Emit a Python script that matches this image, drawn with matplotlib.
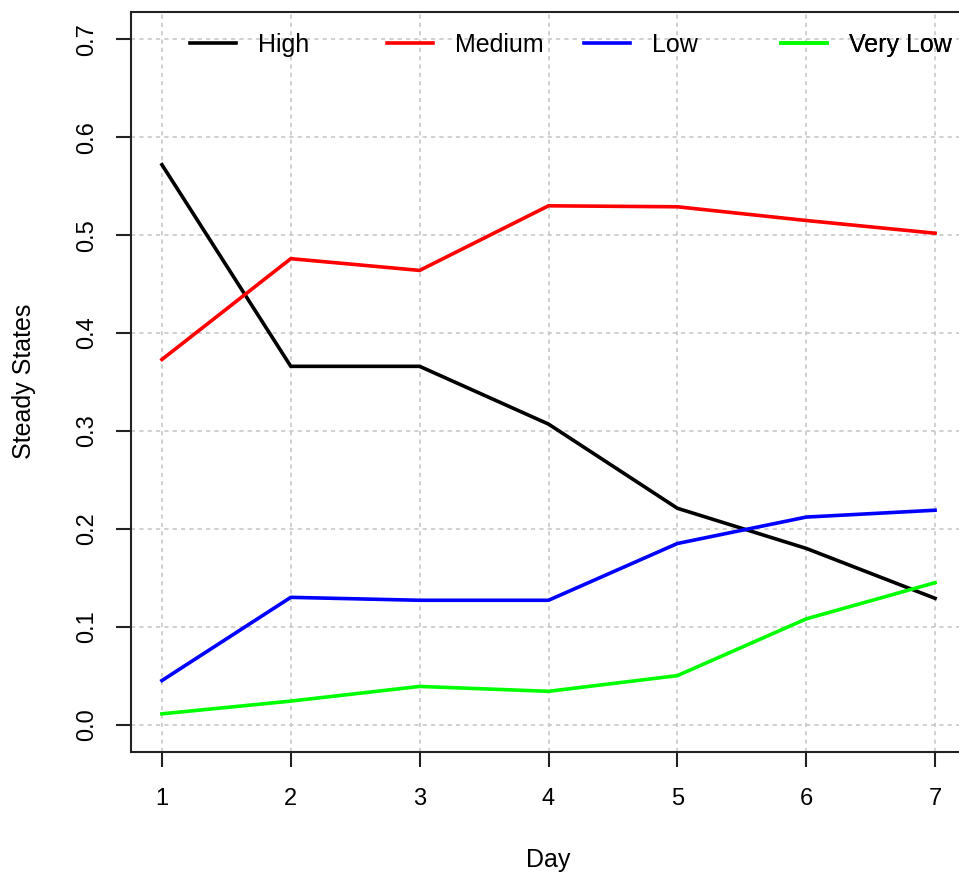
import matplotlib
matplotlib.use('Agg')
import matplotlib.pyplot as plt

plt.rcParams['font.family'] = ['Liberation Sans', 'DejaVu Sans']

# 数据
days = [1, 2, 3, 4, 5, 6, 7]
high = [0.572, 0.366, 0.366, 0.307, 0.221, 0.180, 0.129]
medium = [0.373, 0.476, 0.464, 0.530, 0.529, 0.515, 0.502]
low = [0.045, 0.130, 0.127, 0.127, 0.185, 0.212, 0.219]
very_low = [0.011, 0.024, 0.039, 0.034, 0.050, 0.108, 0.145]

series = [('High', high, 'black'), ('Medium', medium, 'red'),
          ('Low', low, 'blue'), ('Very Low', very_low, '#00ff00')]
y_ticks = [0.0, 0.1, 0.2, 0.3, 0.4, 0.5, 0.6, 0.7]

fig = plt.figure(figsize=(9.59, 8.82), dpi=100)
ax = fig.add_axes([131 / 959, 130 / 882, 835 / 959, 740 / 882])

# 网格线
for d in days:
    ax.axvline(d, color='#c8c8c8', lw=1.2, ls=(0, (2.5, 2.5)), zorder=0)
for t in y_ticks:
    ax.axhline(t, color='#c8c8c8', lw=1.2, ls=(0, (2.5, 2.5)), zorder=0)

lines = []
for name, vals, col in series:
    ln, = ax.plot(days, vals, color=col, lw=2.6, label=name)
    lines.append(ln)

ax.set_xlim(0.76, 7.24)
ax.set_ylim(-0.028, 0.728)
ax.set_xticks(days)
ax.set_yticks(y_ticks)
ax.set_yticklabels([f'{t:.1f}' for t in y_ticks], rotation=90, va='center')

for s in ax.spines.values():
    s.set_linewidth(1.5)
    s.set_color('#222222')
ax.tick_params(axis='both', direction='out', length=11, width=1.5,
               color='#222222', labelsize=17)
ax.tick_params(axis='x', pad=15)
ax.tick_params(axis='y', pad=13)

ax.set_xlabel('Day', fontsize=18)
ax.xaxis.set_label_coords(0.5, -0.146)
ax.xaxis.label.set_va('center')
ax.set_ylabel('Steady States', fontsize=18)
ax.yaxis.set_label_coords(-0.128, 0.501)
ax.yaxis.label.set_va('center')

# 图例 横向排列，等间距
x0 = 0.0707
step = 0.236
for i, ln in enumerate(lines):
    leg = ax.legend([ln], [ln.get_label()], loc='center left',
                    bbox_to_anchor=(x0 + i * step, 0.956), frameon=False,
                    fontsize=18, handlelength=1.84, handletextpad=0.88,
                    borderpad=0, borderaxespad=0)
    ax.add_artist(leg)

plt.savefig('out.png', dpi=100)
